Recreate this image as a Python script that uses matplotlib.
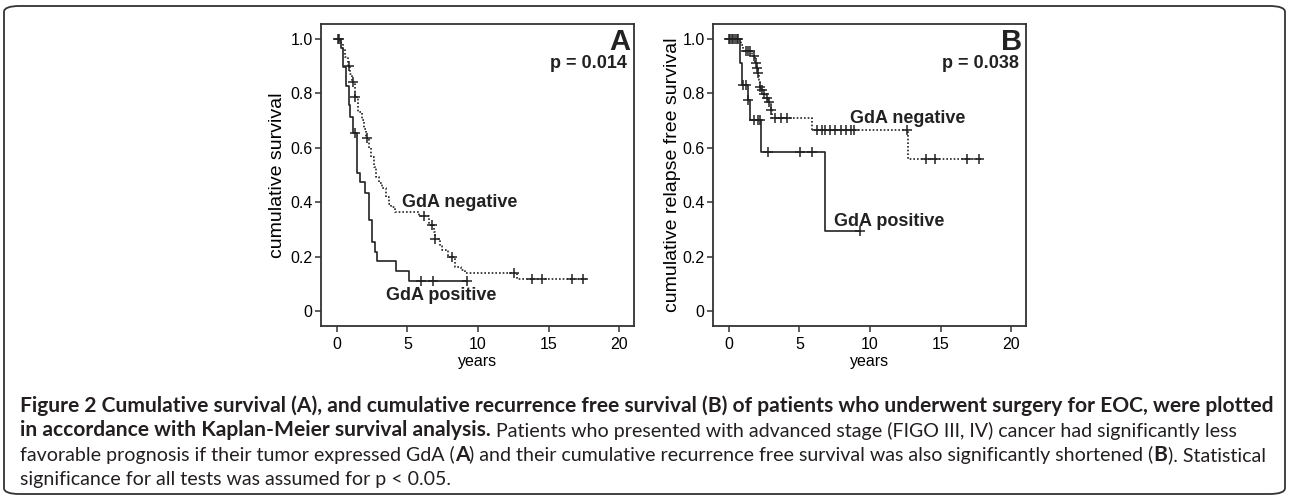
import numpy as np
import matplotlib
matplotlib.use("Agg")
import matplotlib.pyplot as plt
from matplotlib.patches import FancyBboxPatch

plt.rcParams['font.family'] = ['Liberation Sans', 'DejaVu Sans']

# ---- Panel A: cumulative survival (Kaplan-Meier) ----
a_pos_events = [0.26, 0.45, 0.62, 0.83, 0.95, 1.16, 1.40, 1.63, 1.99, 2.27, 2.52, 2.70, 2.84, 4.18, 5.10]
a_pos_surv = [0.967, 0.898, 0.827, 0.757, 0.714, 0.653, 0.508, 0.473, 0.435, 0.334, 0.255, 0.218, 0.184, 0.147, 0.110]
a_pos_end = 9.24
a_pos_cens = [0.05, 1.28, 5.96, 6.78, 9.24]

a_neg_events = [0.20, 0.45, 0.60, 0.78, 0.95, 1.10, 1.25, 1.50, 1.75, 1.95, 2.05, 2.25, 2.40, 2.60, 2.75,
                3.00, 3.20, 3.50, 3.70, 3.80, 4.10, 5.80, 6.50, 6.85, 6.93, 7.30, 7.45, 7.90, 8.40, 8.80,
                9.05, 12.80]
a_neg_surv = [0.985, 0.962, 0.935, 0.902, 0.870, 0.843, 0.786, 0.733, 0.702, 0.670, 0.637, 0.600, 0.567, 0.530, 0.494,
              0.470, 0.451, 0.420, 0.395, 0.384, 0.365, 0.349, 0.316, 0.290, 0.263, 0.240, 0.224, 0.197, 0.163, 0.150,
              0.141, 0.116]
a_neg_end = 17.8
a_neg_cens = [0.15, 0.83, 1.16, 1.30, 2.10, 6.17, 6.71, 6.97, 8.13, 12.58, 13.86, 14.55, 16.65, 17.45]

# ---- Panel B: cumulative relapse free survival ----
b_pos_events = [0.77, 0.95, 1.32, 1.49, 2.28, 6.83]
b_pos_surv = [0.910, 0.831, 0.776, 0.702, 0.586, 0.294]
b_pos_end = 9.3
b_pos_cens = [0.0, 0.3, 0.55, 1.03, 1.20, 1.37, 1.80, 2.04, 2.20, 2.80, 5.03, 5.90, 9.30]

b_neg_events = [0.84, 1.00, 1.65, 1.85, 1.98, 2.05, 2.12, 2.18, 2.30, 2.40, 2.60, 2.75, 2.95, 3.05, 5.87, 12.66]
b_neg_surv = [0.978, 0.954, 0.936, 0.911, 0.893, 0.874, 0.850, 0.825, 0.813, 0.798, 0.782, 0.770, 0.739, 0.708,
              0.665, 0.557]
b_neg_end = 17.9
b_neg_cens = [0.1, 0.2, 0.45, 0.65, 1.20, 1.35, 1.50, 1.75, 1.92, 2.00, 2.08, 2.22, 2.35, 2.50, 2.70, 2.85, 3.00,
              3.30, 3.70, 4.10, 6.24, 6.60, 6.83, 7.19, 7.55, 7.91, 8.27, 8.63, 8.87, 12.60, 13.98, 14.63,
              16.86, 17.70]

x_ticks = [0, 5, 10, 15, 20]
y_ticks = [0, 0.2, 0.4, 0.6, 0.8, 1.0]
y_tick_labels = ['0', '0.2', '0.4', '0.6', '0.8', '1.0']

INK = '#222222'


def km_curve(ax, events, surv, end, cens, dotted):
    events = np.asarray(events)
    surv = np.asarray(surv)
    xs = np.concatenate([[0.0], events, [end]])
    ys = np.concatenate([[1.0], surv, [surv[-1]]])
    ls = (0, (1.0, 1.2)) if dotted else '-'
    ax.step(xs, ys, where='post', color=INK, lw=1.2, linestyle=ls)
    # censored cases sit on the curve at their time
    idx = np.searchsorted(events, cens, side='right')
    cy = np.concatenate([[1.0], surv])[idx]
    ax.plot(cens, cy, linestyle='none', marker='+', ms=6.5, mew=1.1, color=INK)


def style_axes(ax, ylabel):
    ax.set_xlim(-1.13, 21.06)
    ax.set_ylim(-0.055, 1.055)
    ax.set_xticks(x_ticks)
    ax.set_yticks(y_ticks)
    ax.set_yticklabels(y_tick_labels)
    ax.tick_params(direction='out', length=4, width=1.1, color='#333333', labelsize=11.5, pad=2)
    ax.tick_params(axis='x', pad=4)
    for sp in ax.spines.values():
        sp.set_linewidth(1.3)
        sp.set_color('#333333')
    ax.set_xlabel('years', fontsize=11.5)
    ax.set_ylabel(ylabel, fontsize=14)


fig = plt.figure(figsize=(12.89, 4.97), dpi=100)
W, H = 1289.0, 497.0

ax_a = fig.add_axes([321 / W, 1 - 326 / H, 313 / W, 302 / H])
ax_b = fig.add_axes([713 / W, 1 - 326 / H, 313 / W, 302 / H])

km_curve(ax_a, a_pos_events, a_pos_surv, a_pos_end, a_pos_cens, dotted=False)
km_curve(ax_a, a_neg_events, a_neg_surv, a_neg_end, a_neg_cens, dotted=True)
km_curve(ax_b, b_pos_events, b_pos_surv, b_pos_end, b_pos_cens, dotted=False)
km_curve(ax_b, b_neg_events, b_neg_surv, b_neg_end, b_neg_cens, dotted=True)

style_axes(ax_a, 'cumulative survival')
style_axes(ax_b, 'cumulative relapse free survival')
ax_a.yaxis.set_label_coords(-35 / 313, 0.5)
ax_b.yaxis.set_label_coords(-32 / 313, 0.5)
ax_a.xaxis.set_label_coords(0.5, -28 / 302)
ax_b.xaxis.set_label_coords(0.5, -28 / 302)

lab = dict(fontsize=13, fontweight='bold', color=INK, va='baseline', ha='left')
ax_a.text(4.59, 0.381, 'GdA negative', **lab)
ax_a.text(3.48, 0.040, 'GdA positive', **lab)
ax_b.text(8.58, 0.692, 'GdA negative', **lab)
ax_b.text(7.43, 0.3125, 'GdA positive', **lab)

for ax, letter, p in [(ax_a, 'A', 'p = 0.014'), (ax_b, 'B', 'p = 0.038')]:
    ax.text(0.987, 0.914, letter, transform=ax.transAxes, ha='right', va='baseline',
            fontsize=21, fontweight='bold', color=INK)
    ax.text(0.977, 0.854, p, transform=ax.transAxes, ha='right', va='baseline',
            fontsize=13, fontweight='bold', color=INK)

# outer rounded frame
frame = FancyBboxPatch((4 / W, 1 - 494 / H), 1281 / W, 488 / H,
                       boxstyle='round,pad=0,rounding_size=0.012',
                       transform=fig.transFigure, fill=False, lw=1.3, ec='#333333')
fig.add_artist(frame)

# caption, drawn piece by piece so bold and regular runs sit on one line
caption_lines = [
    [("Figure 2 Cumulative survival (A), and cumulative recurrence free survival (B) of patients "
      "who underwent surgery for EOC, were plotted", 'bold')],
    [("in accordance with Kaplan-Meier survival analysis.", 'bold'),
     (" Patients who presented with advanced stage (FIGO III, IV) cancer had significantly less", 'normal')],
    [("favorable prognosis if their tumor expressed GdA (", 'normal'), ("A", 'bold'),
     (") and their cumulative recurrence free survival was also significantly shortened (", 'normal'),
     ("B", 'bold'), ("). Statistical", 'normal')],
    [("significance for all tests was assumed for p < 0.05.", 'normal')],
]
cap_font = 'Lato'
fig.canvas.draw()
renderer = fig.canvas.get_renderer()


def text_width(s, weight, size):
    t = fig.text(0, 0, s, fontsize=size, fontweight=weight, family=cap_font)
    w = t.get_window_extent(renderer).width
    t.remove()
    return w


# fit the two weights to the line lengths of the printed caption
bold_size = 13 * 1252 / text_width(caption_lines[0][0][0], 'bold', 13)
reg_size = 13 * 1237 / text_width(''.join(s for s, _ in caption_lines[2]), 'normal', 13)
sizes = {'bold': bold_size, 'normal': reg_size}

for i, parts in enumerate(caption_lines):
    x = 20.0
    y = 412 + 24.5 * i
    for s, weight in parts:
        size = sizes[weight]
        core = s.strip(' ')
        if s.startswith(' '):
            x += text_width('x x', weight, size) - text_width('xx', weight, size)
        t = fig.text(x / W, 1 - y / H, core, fontsize=size, fontweight=weight, family=cap_font,
                     color='#231f20', va='baseline', ha='left')
        x += t.get_window_extent(renderer).width

fig.savefig('out.png', dpi=100)
